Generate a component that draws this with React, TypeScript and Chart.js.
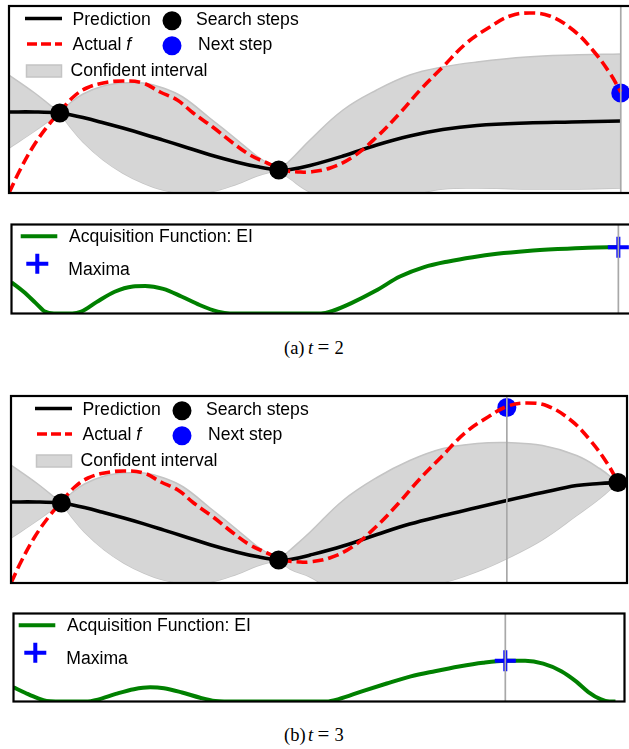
import React, { useEffect, useRef } from "react";
import { Chart, registerables } from "chart.js";

Chart.register(...registerables);

// ---------------- data (x in search-space units, y in function units) ----------------
const ACTUAL_X = [0, 0.18, 0.39, 0.62, 0.83, 1.05, 1.27, 1.54, 1.86, 2.19, 2.47, 2.75, 3.01, 3.33, 3.66, 3.94, 4.22, 4.48, 4.75, 4.92, 5.25, 5.62, 6.01, 6.39, 6.72, 7.09, 7.48, 7.86, 8.19, 8.51, 8.84, 9.22, 9.54, 9.82, 10.0];
const ACTUAL_Y = [0.0, 2.3, 4.6, 6.6, 8.1, 9.6, 10.5, 11.0, 11.2, 11.0, 10.1, 9.3, 8.0, 6.6, 5.0, 3.8, 3.0, 2.3, 2.1, 2.1, 2.5, 3.6, 5.6, 8.0, 10.3, 12.6, 15.0, 16.6, 17.7, 18.0, 17.7, 16.3, 14.3, 12.0, 10.1];

// t = 2
const STEP_X_A = [0.83, 4.41];
const STEP_Y_A = [8.0, 2.3];
const NEXT_X_A = [10.0];
const NEXT_Y_A = [10.0];
const GRID_X_A = [0, 0.42, 0.83, 1.0, 1.21, 1.54, 1.86, 2.19, 2.52, 2.84, 3.28, 3.73, 4.05, 4.41, 4.6, 4.92, 5.46, 6.01, 6.55, 7.09, 7.65, 8.46, 9.2, 10.0];
const MEAN_A = [8.1, 8.1, 8.0, 7.82, 7.54, 7.02, 6.49, 5.91, 5.29, 4.68, 3.83, 3.08, 2.64, 2.3, 2.35, 2.75, 3.7, 4.8, 5.7, 6.35, 6.75, 7.0, 7.1, 7.2];
const UPPER_A = [11.8, 10.0, 8.0, 9.0, 9.9, 10.7, 11.0, 11.0, 10.5, 9.6, 7.5, 5.3, 3.7, 2.3, 3.3, 5.3, 8.3, 10.3, 11.8, 12.6, 13.1, 13.6, 13.8, 13.9];
const LOWER_A = [4.5, 6.2, 8.0, 6.6, 5.1, 3.3, 2.0, 1.0, 0.3, 0.0, 0.1, 0.9, 1.7, 2.3, 1.4, 0.1, -1.1, -0.7, -0.2, 0.4, 0.5, 0.4, 0.4, 0.5];
const EI_X_A = [0, 0.2, 0.4, 0.55, 0.7, 1.0, 1.15, 1.4, 1.7, 2.0, 2.2, 2.5, 2.8, 3.1, 3.4, 3.6, 5.1, 5.3, 5.6, 6.0, 6.4, 6.8, 7.2, 7.6, 8.0, 8.5, 9.0, 9.5, 10.0];
const EI_Y_A = [3.3, 2.3, 1.1, 0.2, 0.0, 0.0, 0.2, 1.2, 2.3, 2.85, 2.9, 2.6, 1.8, 0.9, 0.2, 0.0, 0.0, 0.3, 1.1, 2.4, 3.9, 4.9, 5.5, 5.95, 6.3, 6.6, 6.8, 6.95, 7.0];
const MAX_X_A = [10.0];
const MAX_Y_A = [7.0];

// t = 3
const STEP_X_B = [0.83, 4.41, 10.0];
const STEP_Y_B = [8.0, 2.3, 10.05];
const NEXT_X_B = [8.17];
const NEXT_Y_B = [17.55];
const GRID_X_B = [0, 0.42, 0.83, 1.0, 1.21, 1.54, 1.86, 2.19, 2.52, 2.84, 3.28, 3.73, 4.05, 4.41, 4.6, 4.93, 5.47, 6.03, 6.57, 7.12, 7.68, 8.17, 8.76, 9.32, 9.7, 10.0];
const MEAN_B = [8.1, 8.1, 8.0, 7.82, 7.54, 7.02, 6.49, 5.91, 5.29, 4.68, 3.83, 3.08, 2.64, 2.3, 2.35, 2.8, 3.7, 4.85, 5.9, 6.75, 7.55, 8.25, 9.05, 9.75, 9.95, 10.05];
const UPPER_B = [11.8, 10.0, 8.0, 9.0, 9.9, 10.7, 11.0, 11.0, 10.5, 9.6, 7.5, 5.3, 3.7, 2.3, 3.3, 5.1, 8.25, 10.55, 12.25, 13.45, 13.95, 14.05, 13.75, 12.75, 11.45, 10.05];
const LOWER_B = [4.5, 6.2, 8.0, 6.6, 5.1, 3.3, 2.0, 1.0, 0.3, 0.0, 0.1, 0.9, 1.7, 2.3, 1.4, 0.6, -1.15, -0.65, -0.35, 0.05, 1.15, 2.45, 4.35, 6.75, 8.45, 10.05];
const EI_X_B = [0, 0.2, 0.4, 0.55, 0.7, 1.2, 1.4, 1.7, 2.0, 2.27, 2.5, 2.8, 3.1, 3.35, 3.5, 5.2, 5.4, 5.8, 6.2, 6.6, 7.0, 7.4, 7.8, 8.17, 8.5, 8.8, 9.1, 9.35, 9.55, 9.75, 9.9, 10.0];
const EI_Y_B = [1.5, 0.9, 0.35, 0.05, 0.0, 0.0, 0.2, 0.8, 1.3, 1.5, 1.4, 0.95, 0.4, 0.05, 0.0, 0.0, 0.25, 1.1, 1.9, 2.65, 3.2, 3.7, 4.1, 4.3, 4.3, 4.0, 3.2, 2.1, 1.0, 0.25, 0.0, 0.0];
const MAX_X_B = [8.17];
const MAX_Y_B = [4.3];

// text
const GP_LABELS = ["Prediction", "Search steps", "Actual ", "f", "Next step", "Confident interval"];
const ACQ_LABELS = ["Acquisition Function: EI", "Maxima"];
const CAPTION_LETTERS = ["(a)", "(b)"];
const CAPTION_T = ["2", "3"];

// ---------------- styles ----------------
const SANS = '"Liberation Sans", Arial, Helvetica, sans-serif';
const FONT_SIZE = 17.6;
const RED = "#ff0000";
const BLUE = "#0000ff";
const GREEN = "#008000";
const BAND_FILL = "rgb(214,214,214)";
const BAND_EDGE = "rgb(196,196,196)";
const VLINE = "#a8a8a8";
const PAD = 12;
const TENSION = 0.4;

type Box = { left: number; top: number; right: number; bottom: number };
type Mapper = (x: number, y: number) => [number, number];

const zip = (xs: number[], ys: number[]) => xs.map((x, i) => ({ x, y: ys[i] }));

function gpDatasets(stepX: number[], stepY: number[], nextX: number[], nextY: number[], gridX: number[], mean: number[], upper: number[], lower: number[]) {
  const ds: any[] = [
    { data: zip(stepX, stepY), showLine: false, pointRadius: 9.5, pointBackgroundColor: "#000", pointBorderWidth: 0, clip: false },
    { data: zip(ACTUAL_X, ACTUAL_Y), borderColor: RED, borderWidth: 3.6, borderDash: [11, 5], pointRadius: 0, tension: TENSION, fill: false },
    { data: zip(nextX, nextY), showLine: false, pointRadius: 9.5, pointBackgroundColor: BLUE, pointBorderWidth: 0, clip: false },
    { data: zip(gridX, mean), borderColor: "#000", borderWidth: 3.6, pointRadius: 0, tension: TENSION, fill: false },
  ];
  // split the band into lobes between observed points
  const first = gridX[0], last = gridX[gridX.length - 1];
  const breaks = [first, ...stepX.filter((s) => s > first && s < last), last];
  for (let k = 0; k < breaks.length - 1; k++) {
    const a = breaks[k], b = breaks[k + 1];
    const idx = gridX.map((_, i) => i).filter((i) => gridX[i] >= a - 1e-9 && gridX[i] <= b + 1e-9);
    const up = idx.map((i) => ({ x: gridX[i], y: upper[i] }));
    const lo = idx.map((i) => ({ x: gridX[i], y: lower[i] }));
    const upIndex = ds.length;
    ds.push({ data: up, borderColor: BAND_EDGE, borderWidth: 1.5, pointRadius: 0, tension: TENSION, fill: { target: upIndex + 1 }, backgroundColor: BAND_FILL });
    ds.push({ data: lo, borderColor: BAND_EDGE, borderWidth: 1.5, pointRadius: 0, tension: TENSION, fill: false });
  }
  return ds;
}

function acqDatasets(eiX: number[], eiY: number[], maxX: number[], maxY: number[]) {
  return [
    { data: zip(maxX, maxY), showLine: false, pointStyle: "cross", pointRadius: 10.5, pointBorderColor: BLUE, pointBorderWidth: 4, clip: false },
    { data: zip(eiX, eiY), borderColor: GREEN, borderWidth: 4, pointRadius: 0, cubicInterpolationMode: "monotone", fill: false, clip: 0 },
  ];
}

function setFont(ctx: CanvasRenderingContext2D, italic = false) {
  ctx.font = `${italic ? "italic " : ""}${FONT_SIZE}px ${SANS}`;
  ctx.fillStyle = "#000";
  ctx.textAlign = "left";
  ctx.textBaseline = "alphabetic";
}

function drawGPLegend(ctx: CanvasRenderingContext2D, P: Mapper) {
  ctx.lineCap = "butt";
  // row 1
  let [x0, y0] = P(25, 18.5);
  const [x1] = P(62, 0);
  ctx.strokeStyle = "#000"; ctx.lineWidth = 3.6; ctx.setLineDash([]);
  ctx.beginPath(); ctx.moveTo(x0, y0); ctx.lineTo(x1, y0); ctx.stroke();
  setFont(ctx);
  let [tx, ty] = P(72.5, 25);
  ctx.fillText(GP_LABELS[0], tx, ty);
  let [cx, cy] = P(172, 20.8);
  ctx.fillStyle = "#000"; ctx.beginPath(); ctx.arc(cx, cy, 9.5, 0, Math.PI * 2); ctx.fill();
  setFont(ctx);
  [tx, ty] = P(196, 25);
  ctx.fillText(GP_LABELS[1], tx, ty);
  // row 2
  [x0, y0] = P(27, 44);
  ctx.strokeStyle = RED; ctx.lineWidth = 3.6; ctx.setLineDash([10, 4]);
  ctx.beginPath(); ctx.moveTo(x0, y0); ctx.lineTo(x1, y0); ctx.stroke();
  ctx.setLineDash([]);
  setFont(ctx);
  [tx, ty] = P(72.5, 49.8);
  ctx.fillText(GP_LABELS[2], tx, ty);
  const w = ctx.measureText(GP_LABELS[2]).width;
  setFont(ctx, true);
  ctx.fillText(GP_LABELS[3], tx + w, ty);
  [cx, cy] = P(172, 45.8);
  ctx.fillStyle = BLUE; ctx.beginPath(); ctx.arc(cx, cy, 9.5, 0, Math.PI * 2); ctx.fill();
  setFont(ctx);
  [tx, ty] = P(198, 49.8);
  ctx.fillText(GP_LABELS[4], tx, ty);
  // row 3
  const [rx, ry] = P(26.5, 65);
  ctx.fillStyle = BAND_FILL; ctx.strokeStyle = BAND_EDGE; ctx.lineWidth = 1.5;
  ctx.fillRect(rx, ry, 35, 12); ctx.strokeRect(rx, ry, 35, 12);
  setFont(ctx);
  [tx, ty] = P(70.5, 75.5);
  ctx.fillText(GP_LABELS[5], tx, ty);
}

function drawAcqLegend(ctx: CanvasRenderingContext2D, P: Mapper) {
  ctx.lineCap = "butt"; ctx.setLineDash([]);
  const [x0, y0] = P(20.7, 236.3);
  const [x1] = P(57.3, 0);
  ctx.strokeStyle = GREEN; ctx.lineWidth = 4;
  ctx.beginPath(); ctx.moveTo(x0, y0); ctx.lineTo(x1, y0); ctx.stroke();
  setFont(ctx);
  let [tx, ty] = P(69, 242);
  ctx.fillText(ACQ_LABELS[0], tx, ty);
  const [cx, cy] = P(37.3, 263.7);
  ctx.strokeStyle = BLUE; ctx.lineWidth = 4;
  ctx.beginPath();
  ctx.moveTo(cx - 11, cy); ctx.lineTo(cx + 11, cy);
  ctx.moveTo(cx, cy - 10); ctx.lineTo(cx, cy + 10);
  ctx.stroke();
  setFont(ctx);
  [tx, ty] = P(68.3, 275);
  ctx.fillText(ACQ_LABELS[1], tx, ty);
}

type PanelProps = {
  box: Box;
  xMax: number;
  yMax: number;
  datasets: any[];
  vlineX: number;
  legend: (ctx: CanvasRenderingContext2D, P: Mapper) => void;
  shift: [number, number];
};

function Panel({ box, xMax, yMax, datasets, vlineX, legend, shift }: PanelProps) {
  const ref = useRef<HTMLCanvasElement>(null);
  const W = box.right - box.left + 2 * PAD;
  const H = box.bottom - box.top + 2 * PAD;
  useEffect(() => {
    const canvas = ref.current!;
    const ox = box.left - PAD;
    const oy = box.top - PAD;
    const P: Mapper = (x, y) => [x + shift[0] - ox, y + shift[1] - oy];
    const overlay = {
      id: "overlay",
      afterDatasetsDraw(chart: any) {
        const { ctx, chartArea: a, scales } = chart;
        ctx.save();
        const vx = scales.x.getPixelForValue(vlineX);
        ctx.strokeStyle = VLINE; ctx.lineWidth = 1.7; ctx.setLineDash([]);
        ctx.beginPath(); ctx.moveTo(vx, a.top); ctx.lineTo(vx, a.bottom); ctx.stroke();
        ctx.strokeStyle = "#000"; ctx.lineWidth = 2.2;
        ctx.strokeRect(a.left, a.top, a.right - a.left, a.bottom - a.top);
        legend(ctx, P);
        ctx.restore();
      },
    };
    const chart = new Chart(canvas, {
      type: "line",
      data: { datasets },
      options: {
        animation: false,
        responsive: false,
        maintainAspectRatio: false,
        events: [],
        layout: { padding: PAD },
        elements: { line: { capBezierPoints: false } },
        plugins: { legend: { display: false }, tooltip: { enabled: false } },
        scales: {
          x: { type: "linear", min: 0, max: xMax, display: false },
          y: { type: "linear", min: 0, max: yMax, display: false },
        },
      },
      plugins: [overlay],
    } as any);
    return () => chart.destroy();
  }, []);
  return (
    <canvas
      ref={ref}
      width={W}
      height={H}
      style={{ position: "absolute", left: box.left - PAD, top: box.top - PAD, width: W, height: H }}
    />
  );
}

function Caption({ top, idx }: { top: number; idx: number }) {
  const base: React.CSSProperties = {
    position: "absolute",
    top,
    fontFamily: '"Liberation Serif", "Times New Roman", serif',
    fontSize: 18.5,
    lineHeight: "20px",
    color: "#000",
    whiteSpace: "nowrap",
  };
  return (
    <>
      <span style={{ ...base, left: 284 }}>{CAPTION_LETTERS[idx]}</span>
      <span style={{ ...base, left: 308, fontStyle: "italic" }}>t</span>
      <span style={{ ...base, left: 317.5, fontSize: 21, top: top - 1 }}>=</span>
      <span style={{ ...base, left: 334.5 }}>{CAPTION_T[idx]}</span>
    </>
  );
}

export default function App() {
  const gpA = gpDatasets(STEP_X_A, STEP_Y_A, NEXT_X_A, NEXT_Y_A, GRID_X_A, MEAN_A, UPPER_A, LOWER_A);
  const gpB = gpDatasets(STEP_X_B, STEP_Y_B, NEXT_X_B, NEXT_Y_B, GRID_X_B, MEAN_B, UPPER_B, LOWER_B);
  const acqA = acqDatasets(EI_X_A, EI_Y_A, MAX_X_A, MAX_Y_A);
  const acqB = acqDatasets(EI_X_B, EI_Y_B, MAX_X_B, MAX_Y_B);
  return (
    <div style={{ position: "absolute", left: 0, top: 0, width: 629, height: 749, overflow: "hidden", background: "#fff" }}>
      <Panel box={{ left: 9, top: 6, right: 633, bottom: 193 }} xMax={10.2} yMax={18.7} datasets={gpA} vlineX={NEXT_X_A[0]} legend={drawGPLegend} shift={[0, 0]} />
      <Panel box={{ left: 9, top: 222, right: 633, bottom: 316 }} xMax={10.2} yMax={9.4} datasets={acqA} vlineX={MAX_X_A[0]} legend={drawAcqLegend} shift={[0, 0]} />
      <Caption top={338} idx={0} />
      <Panel box={{ left: 11, top: 396, right: 627, bottom: 583 }} xMax={10.15} yMax={18.7} datasets={gpB} vlineX={NEXT_X_B[0]} legend={drawGPLegend} shift={[10, 390]} />
      <Panel box={{ left: 11, top: 611, right: 627, bottom: 704 }} xMax={10.15} yMax={9.3} datasets={acqB} vlineX={MAX_X_B[0]} legend={drawAcqLegend} shift={[-2, 389]} />
      <Caption top={725} idx={1} />
    </div>
  );
}
